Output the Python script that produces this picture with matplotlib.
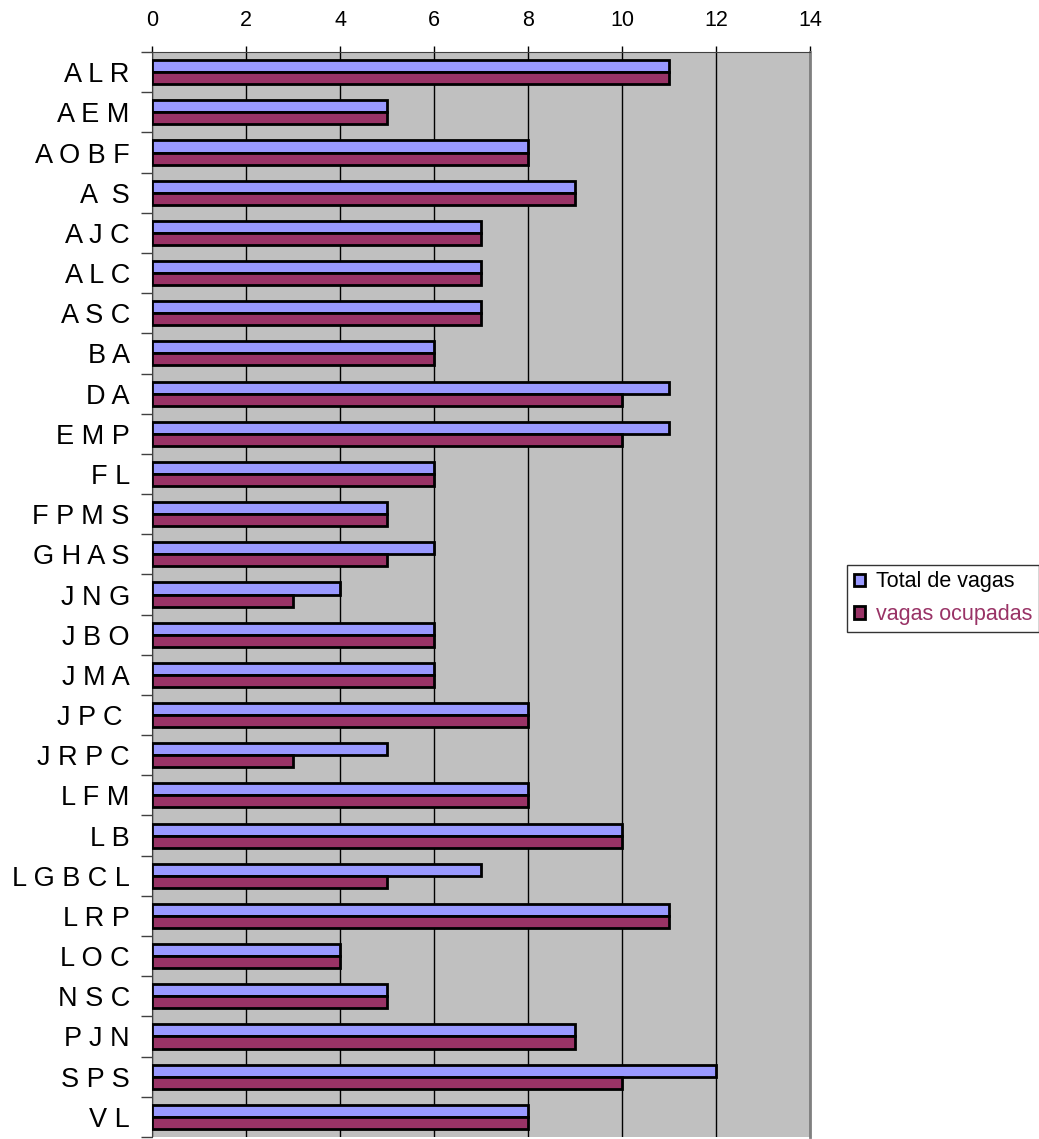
import matplotlib.pyplot as plt
import numpy as np

plt.rcParams['font.family'] = ['Liberation Sans', 'DejaVu Sans']

categories = ['A L R', 'A E M', 'A O B F', 'A  S', 'A J C', 'A L C', 'A S C', 'B A',
              'D A', 'E M P', 'F L', 'F P M S', 'G H A S', 'J N G', 'J B O', 'J M A',
              'J P C ', 'J R P C', 'L F M', 'L B', 'L G B C L', 'L R P', 'L O C',
              'N S C', 'P J N', 'S P S', 'V L']
total_vagas = [11, 5, 8, 9, 7, 7, 7, 6, 11, 11, 6, 5, 6, 4, 6, 6, 8, 5, 8, 10, 7, 11, 4, 5, 9, 12, 8]
vagas_ocupadas = [11, 5, 8, 9, 7, 7, 7, 6, 10, 10, 6, 5, 5, 3, 6, 6, 8, 3, 8, 10, 5, 11, 4, 5, 9, 10, 8]

blue = '#9999FF'
plum = '#993366'

fig = plt.figure(figsize=(10.39, 11.39), dpi=100)
ax = fig.add_axes([0.1463, 0.0018, 0.6333, 0.9525])
ax.set_facecolor('#C0C0C0')

y = np.arange(len(categories))
h = 0.3
ax.barh(y - h / 2, total_vagas, height=h, color=blue, edgecolor='black', linewidth=2,
        label='Total de vagas', zorder=3)
ax.barh(y + h / 2, vagas_ocupadas, height=h, color=plum, edgecolor='black', linewidth=2,
        label='vagas ocupadas', zorder=3)

ax.set_xlim(0, 14)
ax.set_ylim(len(categories) - 0.5, -0.5)
ax.set_xticks(range(0, 15, 2))
ax.xaxis.tick_top()
ax.tick_params(axis='x', length=4, width=1, pad=11, labelsize=15.5, color='black')
ax.grid(axis='x', color='black', linewidth=1, zorder=1)

ax.set_yticks(y)
ax.set_yticklabels(categories, fontsize=19.5)
ax.tick_params(axis='y', length=0, pad=16)
ax.set_yticks(np.arange(-0.5, len(categories), 1), minor=True)
ax.tick_params(axis='y', which='minor', length=8, width=1, color='#404040')

ax.spines['bottom'].set_visible(False)
ax.spines['top'].set_color('#404040')
ax.spines['left'].set_color('#404040')
ax.spines['right'].set_color('#808080')
ax.spines['right'].set_linewidth(2)

leg = fig.legend(loc='upper left', bbox_to_anchor=(0.8155, 0.504), fontsize=15.5,
                 frameon=True, fancybox=False, edgecolor='black', handlelength=0.5,
                 handleheight=0.5, handletextpad=0.55, borderpad=0.3, labelspacing=0.55,
                 borderaxespad=0)
leg.get_frame().set_linewidth(1)
leg.get_texts()[1].set_color(plum)

fig.savefig('out.png', dpi=100)
